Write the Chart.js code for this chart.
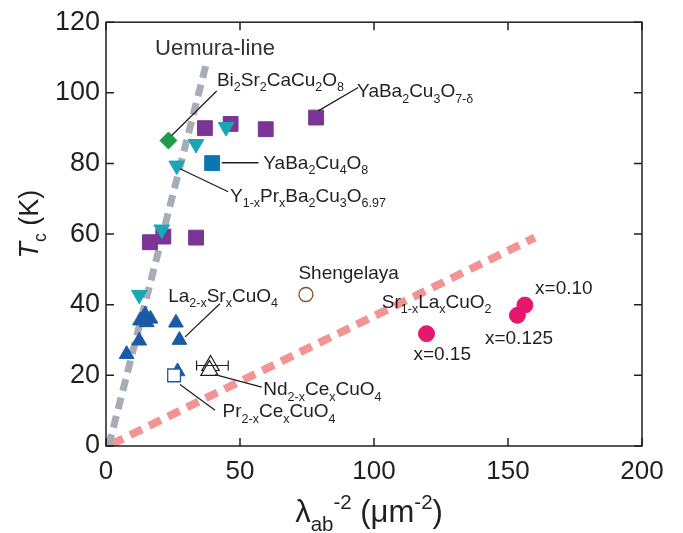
<!DOCTYPE html>
<html>
<head>
<meta charset="utf-8">
<script src="https://cdn.jsdelivr.net/npm/chart.js@4.4.1/dist/chart.umd.min.js"></script>
<style>
  html, body { margin: 0; padding: 0; background: #fff; }
</style>
</head>
<body>
<canvas id="c" width="683" height="533"></canvas>
<script>
// values (x: lambda_ab^-2 in um^-2, y: Tc in K)
const ybco7X = [36.9, 46.5, 59.6, 78.4, 16.4, 21.4, 33.6];
const ybco7Y = [90.0, 91.2, 89.7, 93.0, 57.7, 59.3, 59.0];
const yprX = [44.8, 33.6, 26.4, 20.8, 12.4];
const yprY = [90.3, 85.5, 79.4, 61.3, 42.8];
const bi2212X = [23.3];
const bi2212Y = [86.5];
const y124X = [39.6];
const y124Y = [80.1];
const lscoX = [12.7, 14.6, 16.6, 15.2, 12.4, 7.7, 26.1, 27.4, 26.7];
const lscoY = [35.5, 37.2, 36.0, 35.0, 29.8, 26.0, 34.9, 30.0, 21.1];
const pccoX = [25.4];
const pccoY = [20.0];
const nccoX = [39.0, 38.6];
const nccoY = [22.8, 21.4];
const nccoErrLo = [33.8, 33.8];
const nccoErrHi = [45.6, 45.6];
const shengX = [74.6];
const shengY = [42.9];
const srlaX = [119.6, 153.5, 156.3];
const srlaY = [31.8, 37.0, 39.9];
const uemuraX = [1.0, 37.5];
const uemuraY = [0.0, 108.5];
const infiniteX = [2.0, 160.0];
const infiniteY = [0.5, 59.0];
const xTicks = [0, 50, 100, 150, 200];
const yTicks = [0, 20, 40, 60, 80, 100, 120];

const FONT = '"Liberation Sans", Arial, Helvetica, sans-serif';
const INK = '#231f20';

const pts = (xs, ys) => xs.map((x, i) => ({ x, y: ys[i] }));

// text labels with leader lines, in data units
const notes = [
  { text: 'Uemura-line', x: 18.3, y: 110.7, size: 22, color: '#333' },
  { text: 'Bi_{2}Sr_{2}CaCu_{2}O_{8}', x: 41.4, y: 102.0, lead: [24.5, 87.9, 41.3, 100.5] },
  { text: 'YaBa_{2}Cu_{3}O_{7-δ}', x: 93.7, y: 98.7, lead: [79.2, 94.9, 94.1, 101.5] },
  { text: 'YaBa_{2}Cu_{4}O_{8}', x: 58.7, y: 78.5, lead: [43.2, 80.2, 56.9, 80.2] },
  { text: 'Y_{1-x}Pr_{x}Ba_{2}Cu_{3}O_{6.97}', x: 46.3, y: 69.1, lead: [27.6, 78.5, 45.6, 72.0] },
  { text: 'La_{2-x}Sr_{x}CuO_{4}', x: 23.2, y: 40.8, lead: [29.5, 30.9, 42.5, 40.3] },
  { text: 'Shengelaya', x: 71.8, y: 47.4 },
  { text: 'Nd_{2-x}Ce_{x}CuO_{4}', x: 58.7, y: 14.3, lead: [40.7, 20.2, 58.1, 16.7] },
  { text: 'Pr_{2-x}Ce_{x}CuO_{4}', x: 43.5, y: 8.1, lead: [27.6, 17.4, 40.7, 10.1] },
  { text: 'Sr_{1-x}La_{x}CuO_{2}', x: 102.9, y: 39.2 },
  { text: 'x=0.15', x: 114.7, y: 24.4 },
  { text: 'x=0.125', x: 141.4, y: 28.9 },
  { text: 'x=0.10', x: 160.1, y: 42.9 }
];

function parseRich(str) {
  const parts = [];
  const re = /([_^*])\{([^}]*)\}|([^_^*]+)/g;
  let m;
  while ((m = re.exec(str))) {
    if (m[3]) parts.push({ t: m[3], k: '' });
    else parts.push({ t: m[2], k: m[1] === '_' ? 'sub' : m[1] === '^' ? 'sup' : 'it' });
  }
  return parts;
}

function partFont(p, size) {
  if (p.k === 'sub' || p.k === 'sup') return (size * 0.66).toFixed(1) + 'px ' + FONT;
  if (p.k === 'it') return 'italic ' + size + 'px ' + FONT;
  return size + 'px ' + FONT;
}

function drawRich(ctx, str, x, y, size, align) {
  const parts = parseRich(str);
  let w = 0;
  parts.forEach(p => { ctx.font = partFont(p, size); w += ctx.measureText(p.t).width; });
  let cx = align === 'center' ? x - w / 2 : x;
  ctx.textAlign = 'left';
  ctx.textBaseline = 'alphabetic';
  parts.forEach(p => {
    ctx.font = partFont(p, size);
    let dy = 0;
    if (p.k === 'sub') dy = size * 0.28;
    if (p.k === 'sup') dy = -size * 0.42;
    ctx.fillText(p.t, cx, y + dy);
    cx += ctx.measureText(p.t).width;
  });
}

const decor = {
  id: 'decor',
  afterDatasetsDraw(chart) {
    const { ctx, chartArea: a, scales: { x, y } } = chart;
    ctx.save();
    // error bars on the open triangles
    ctx.strokeStyle = INK;
    ctx.lineWidth = 1.2;
    nccoErrLo.forEach((lo, i) => {
      if (i > 0) return;
      const py = y.getPixelForValue(nccoY[i]);
      const x0 = x.getPixelForValue(lo), x1 = x.getPixelForValue(nccoErrHi[i]);
      ctx.beginPath();
      ctx.moveTo(x0, py); ctx.lineTo(x1, py);
      ctx.moveTo(x0, py - 5); ctx.lineTo(x0, py + 5);
      ctx.moveTo(x1, py - 5); ctx.lineTo(x1, py + 5);
      ctx.stroke();
    });
    // leader lines and labels
    notes.forEach(n => {
      if (n.lead) {
        ctx.strokeStyle = INK;
        ctx.lineWidth = 1.3;
        ctx.beginPath();
        ctx.moveTo(x.getPixelForValue(n.lead[0]), y.getPixelForValue(n.lead[1]));
        ctx.lineTo(x.getPixelForValue(n.lead[2]), y.getPixelForValue(n.lead[3]));
        ctx.stroke();
      }
      ctx.fillStyle = n.color || INK;
      drawRich(ctx, n.text, x.getPixelForValue(n.x), y.getPixelForValue(n.y), n.size || 19);
    });
    // frame with inward ticks
    ctx.strokeStyle = INK;
    ctx.lineWidth = 1.5;
    ctx.strokeRect(a.left, a.top, a.right - a.left, a.bottom - a.top);
    ctx.beginPath();
    xTicks.forEach(v => {
      const px = x.getPixelForValue(v);
      ctx.moveTo(px, a.bottom); ctx.lineTo(px, a.bottom - 8);
      ctx.moveTo(px, a.top); ctx.lineTo(px, a.top + 8);
    });
    yTicks.forEach(v => {
      const py = y.getPixelForValue(v);
      ctx.moveTo(a.left, py); ctx.lineTo(a.left + 8, py);
      ctx.moveTo(a.right, py); ctx.lineTo(a.right - 8, py);
    });
    ctx.stroke();
    // axis titles
    ctx.fillStyle = INK;
    drawRich(ctx, 'λ_{ab}^{-2} (μm^{-2})', 369, 522, 31, 'center');
    ctx.translate(38, a.top + (a.bottom - a.top) / 2 - 10);
    ctx.rotate(-Math.PI / 2);
    drawRich(ctx, '*{T}_{c} (K)', 0, 0, 27, 'center');
    ctx.restore();
  }
};

const marker = (label, xs, ys, style, color, radius, extra) => Object.assign({
  label,
  data: pts(xs, ys),
  pointStyle: style,
  pointRadius: radius,
  pointHoverRadius: radius,
  backgroundColor: color,
  borderColor: color,
  borderWidth: 1,
  showLine: false
}, extra || {});

new Chart(document.getElementById('c'), {
  type: 'scatter',
  data: {
    datasets: [
      marker('Sr1-xLaxCuO2', srlaX, srlaY, 'circle', '#e5176f', 8),
      marker('Shengelaya', shengX, shengY, 'circle', '#8a4b2a', 7, { backgroundColor: '#fff', borderWidth: 1.3 }),
      marker('Nd2-xCexCuO4', nccoX, nccoY, 'triangle', INK, 10, { backgroundColor: '#fff', borderWidth: 1.2 }),
      marker('Pr2-xCexCuO4', pccoX, pccoY, 'rect', '#1b5ba6', 9, { backgroundColor: '#fff', borderWidth: 1.3 }),
      marker('Y1-xPrxBa2Cu3O6.97', yprX, yprY, 'triangle', '#1aa6b7', 9, { rotation: 180 }),
      marker('YaBa2Cu4O8', y124X, y124Y, 'rect', '#0b76b0', 10.5),
      marker('Bi2Sr2CaCu2O8', bi2212X, bi2212Y, 'rectRot', '#1a9c4a', 8.5),
      marker('YaBa2Cu3O7-d', ybco7X, ybco7Y, 'rect', '#7a3596', 10.5),
      marker('La2-xSrxCuO4', lscoX, lscoY, 'triangle', '#1b5ba6', 8.5),
      {
        label: 'Uemura-line', data: pts(uemuraX, uemuraY), showLine: true, pointRadius: 0,
        borderColor: '#a8adb5', borderWidth: 7, borderDash: [12, 7], order: 10
      },
      {
        label: 'infinite-layer', data: pts(infiniteX, infiniteY), showLine: true, pointRadius: 0,
        borderColor: '#f19493', borderWidth: 8, borderDash: [13, 8], order: 10
      }
    ]
  },
  options: {
    responsive: false,
    animation: false,
    events: [],
    layout: { padding: { top: 19, right: 41, left: 0, bottom: 0 } },
    plugins: { legend: { display: false }, tooltip: { enabled: false } },
    scales: {
      x: {
        type: 'linear', min: 0, max: 200,
        afterBuildTicks: s => { s.ticks = xTicks.map(v => ({ value: v })); },
        afterFit: s => { s.height = 87; },
        grid: { display: false, drawTicks: false },
        border: { display: false },
        ticks: { padding: 10, color: INK, font: { family: FONT, size: 26 } }
      },
      y: {
        type: 'linear', min: 0, max: 120,
        afterBuildTicks: s => { s.ticks = yTicks.map(v => ({ value: v })); },
        afterFit: s => { s.width = 106; },
        grid: { display: false, drawTicks: false },
        border: { display: false },
        ticks: { padding: 6, color: INK, font: { family: FONT, size: 27 } }
      }
    }
  },
  plugins: [decor]
});
</script>
</body>
</html>
